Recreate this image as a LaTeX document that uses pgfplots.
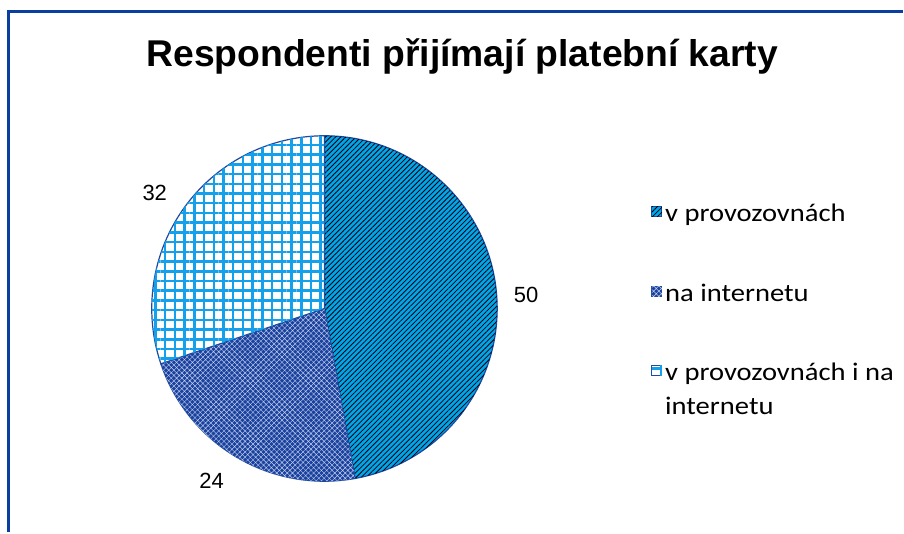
\documentclass[border=0pt]{standalone}
\usepackage{fontspec}
\setmainfont{Liberation Sans}
\newfontfamily\calibri{Carlito}
\usepackage{pgfplots}
\pgfplotsset{compat=1.18}
\usepackage{pgfplotstable}
\usetikzlibrary{patterns.meta}

\definecolor{frameblue}{RGB}{10,62,160}
\definecolor{edgeblue}{RGB}{31,73,160}
\definecolor{brightblue}{RGB}{0,165,235}
\definecolor{darkblue}{RGB}{25,65,160}
\definecolor{gridblue}{RGB}{20,160,235}

% slice values, clockwise from 12 o'clock
\pgfplotstableread{
value
50
24
32
}\piedata

\tikzset{
  sliceA/.style={draw=edgeblue, line width=0.9pt, fill=brightblue,
    postaction={pattern={Lines[angle=45,distance=2.7pt,line width=0.6pt]}, pattern color=black}},
  sliceB/.style={draw=edgeblue, line width=0.9pt, fill=darkblue,
    postaction={pattern={Hatch[angle=45,distance=2.8pt,line width=0.32pt]}, pattern color=white!75!darkblue}},
  sliceC/.style={draw=edgeblue, line width=0.9pt, fill=white,
    postaction={pattern={Hatch[angle=0,distance=7.3pt,line width=1.9pt]}, pattern color=gridblue}},
  legtext/.style={anchor=base west, inner sep=0pt, font=\calibri\fontsize{19}{22}\selectfont},
}
\newcommand{\wide}[1]{\scalebox{1.13}[1]{#1}}

\begin{document}
\begin{tikzpicture}
\pgfplotstablegetelem{0}{value}\of\piedata \let\va\pgfplotsretval
\pgfplotstablegetelem{1}{value}\of\piedata \let\vb\pgfplotsretval
\pgfplotstablegetelem{2}{value}\of\piedata \let\vc\pgfplotsretval
\pgfmathsetmacro\tot{\va+\vb+\vc}
\pgfmathsetmacro\aA{90-\va/\tot*360}
\pgfmathsetmacro\aB{\aA-\vb/\tot*360}
\def\R{129.75pt}
\begin{axis}[
  width=678pt, height=399.75pt,
  scale only axis,
  xmin=0, xmax=904, ymin=0, ymax=533,
  hide axis,
  clip=false,
]
\path (axis cs:0,0) rectangle (axis cs:904,533);

% frame (only top and left edges visible)
\draw[frameblue, line width=2.25pt] (axis cs:9,0) -- (axis cs:9,521) -- (axis cs:904,521);

% title
\node[font=\bfseries\fontsize{28}{33}\selectfont] at (axis cs:463,476) {Respondenti přijímají platební karty};

% pie
\filldraw[sliceA] (axis cs:325,224) -- ++(90:\R) arc[start angle=90, end angle=\aA, radius=\R] -- cycle;
\filldraw[sliceB] (axis cs:325,224) -- ++(\aA:\R) arc[start angle=\aA, end angle=\aB, radius=\R] -- cycle;
\filldraw[sliceC] (axis cs:325,224) -- ++(\aB:\R) arc[start angle=\aB, end angle=-270, radius=\R] -- cycle;

% data labels
\node[font=\fontsize{16.5}{19}\selectfont] at (axis cs:527,238) {\va};
\node[font=\fontsize{16.5}{19}\selectfont] at (axis cs:212,51) {\vb};
\node[font=\fontsize{16.5}{19}\selectfont] at (axis cs:155,340) {\vc};

% legend
\filldraw[sliceA, line width=0.7pt] (axis cs:653,316) rectangle (axis cs:663,326);
\filldraw[sliceB, line width=0.7pt] (axis cs:653,236) rectangle (axis cs:663,246);
\filldraw[sliceC, line width=0.7pt] (axis cs:653,157) rectangle (axis cs:663,167);
\node[legtext] at (axis cs:666,311) {\wide{v provozovnách}};
\node[legtext] at (axis cs:666,231) {\wide{na internetu}};
\node[legtext] at (axis cs:666,152) {\wide{v provozovnách i na}};
\node[legtext] at (axis cs:666,118) {\wide{internetu}};
\end{axis}
\end{tikzpicture}
\end{document}
